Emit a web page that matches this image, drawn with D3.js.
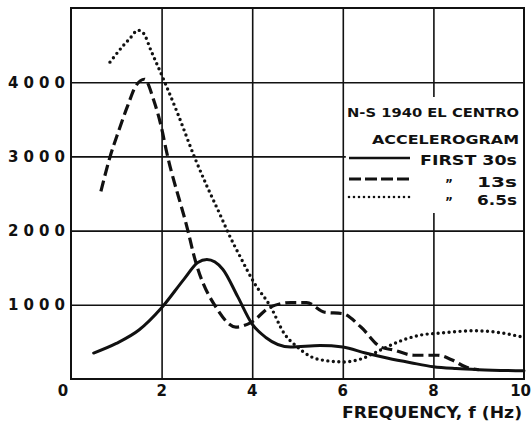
<!DOCTYPE html>
<html>
<head>
<meta charset="utf-8">
<script src="https://cdn.jsdelivr.net/npm/d3@7"></script>
<style>
  body { margin: 0; background: #fff; }
  svg { display: block; }
  .tick-label { font-family: "DejaVu Sans", sans-serif; font-weight: bold; fill: #111; }
  .legend-text { font-family: "DejaVu Sans", sans-serif; font-weight: bold; fill: #111; }
</style>
</head>
<body>
<svg id="chart"></svg>
<script>
// Frequency (Hz) / amplitude pairs
const first30s = [[0.5,350],[1.0,480],[1.5,660],[2.0,960],[2.5,1350],[2.8,1570],[3.0,1610],[3.35,1480],[3.68,1110],[4.0,740],[4.3,560],[4.85,430],[5.5,450],[6.0,430],[6.5,350],[7.0,280],[7.5,220],[8.0,165],[8.5,140],[9.0,125],[10,110]];
const first13s = [[0.66,2530],[0.86,2990],[1.05,3340],[1.25,3680],[1.43,3950],[1.62,4040],[1.83,3750],[2.0,3380],[2.1,3090],[2.58,2000],[2.72,1650],[3.24,930],[3.64,700],[3.97,760],[4.4,970],[4.86,1030],[5.2,1030],[5.6,900],[6.0,880],[6.4,700],[6.84,430],[7.13,390],[7.57,320],[8.1,320],[8.4,260],[8.72,160],[9.0,125]];
const first6p5s = [[0.86,4270],[1.15,4490],[1.3,4590],[1.48,4700],[1.6,4660],[1.77,4420],[2.07,4000],[2.36,3570],[2.72,3000],[3.0,2600],[3.31,2190],[3.47,1970],[3.75,1630],[4.04,1300],[4.41,970],[4.7,620],[5.0,430],[5.3,300],[5.6,250],[6.03,230],[6.4,270],[6.7,350],[7.0,440],[7.35,530],[7.7,590],[8.17,620],[8.9,650],[9.4,630],[9.93,570]];

const xTicks = [0, 2, 4, 6, 8, 10];
const yTicks = [1000, 2000, 3000, 4000];
const legendTitle = ['N-S 1940 EL CENTRO', 'ACCELEROGRAM'];
const legendLabels = ['FIRST 30s', '13s', '6.5s'];
const xTitle = 'FREQUENCY, f (Hz)';

const width = 532, height = 426;
const margin = {top: 8, right: 8, bottom: 47, left: 71};
const ink = '#111';

const svg = d3.select('#chart').attr('width', width).attr('height', height);

const x = d3.scaleLinear().domain([0, 10]).range([margin.left, width - margin.right]);
const y = d3.scaleLinear().domain([0, 5000]).range([height - margin.bottom, margin.top]);

// Grid lines
svg.append('g')
    .attr('transform', `translate(0,${y(0)})`)
    .call(d3.axisBottom(x).tickValues([2, 4, 6, 8]).tickSize(-(y(0) - y(5000))).tickFormat(''))
    .call(g => g.select('.domain').remove())
    .call(g => g.selectAll('line').attr('stroke', ink).attr('stroke-width', 1.6));

svg.append('g')
    .attr('transform', `translate(${x(0)},0)`)
    .call(d3.axisLeft(y).tickValues(yTicks).tickSize(-(x(10) - x(0))).tickFormat(''))
    .call(g => g.select('.domain').remove())
    .call(g => g.selectAll('line').attr('stroke', ink).attr('stroke-width', 1.6));

// Legend box hides the grid behind it
svg.append('rect')
    .attr('x', x(6) + 3).attr('y', 97)
    .attr('width', x(10) - x(6) - 4).attr('height', 116)
    .attr('fill', '#fff');

// Frame
svg.append('rect')
    .attr('x', x(0)).attr('y', y(5000))
    .attr('width', x(10) - x(0)).attr('height', y(0) - y(5000))
    .attr('fill', 'none').attr('stroke', ink).attr('stroke-width', 2);

// Tick labels
svg.append('g')
  .selectAll('text')
  .data(yTicks)
  .join('text')
    .attr('class', 'tick-label')
    .attr('x', 8).attr('y', d => y(d) + 5.5)
    .attr('font-size', 15)
    .attr('textLength', 57).attr('lengthAdjust', 'spacing')
    .text(d => d);

svg.append('g')
  .selectAll('text')
  .data(xTicks)
  .join('text')
    .attr('class', 'tick-label')
    .attr('x', d => d === 0 ? x(0) - 8 : d === 10 ? width - 1 : x(d))
    .attr('y', 396)
    .attr('text-anchor', d => d === 10 ? 'end' : 'middle')
    .attr('font-size', 15)
    .text(d => d);

svg.append('text')
    .attr('class', 'tick-label')
    .attr('x', 342).attr('y', 418)
    .attr('font-size', 15)
    .attr('textLength', 180).attr('lengthAdjust', 'spacingAndGlyphs')
    .text(xTitle);

// Curves
const line = d3.line()
    .x(d => x(d[0]))
    .y(d => y(d[1]))
    .curve(d3.curveMonotoneX);

const styles = [
  {data: first30s, dash: null, width: 3, cap: 'round'},
  {data: first13s, dash: '11 5', width: 3.2, cap: 'butt'},
  {data: first6p5s, dash: '0 5.5', width: 3.4, cap: 'round'}
];

svg.append('g')
  .selectAll('path')
  .data(styles)
  .join('path')
    .attr('d', d => line(d.data))
    .attr('fill', 'none')
    .attr('stroke', ink)
    .attr('stroke-width', d => d.width)
    .attr('stroke-linecap', d => d.cap)
    .attr('stroke-dasharray', d => d.dash);

// Legend
const legend = svg.append('g');

legend.append('text')
    .attr('class', 'legend-text')
    .attr('x', 347).attr('y', 117)
    .attr('font-size', 13)
    .attr('textLength', 172).attr('lengthAdjust', 'spacingAndGlyphs')
    .text(legendTitle[0]);

legend.append('text')
    .attr('class', 'legend-text')
    .attr('x', 372).attr('y', 144)
    .attr('font-size', 13)
    .attr('textLength', 147).attr('lengthAdjust', 'spacingAndGlyphs')
    .text(legendTitle[1]);

const rows = [
  {y: 158, dash: null, cap: 'butt', w: 2.6},
  {y: 179, dash: '12 4', cap: 'butt', w: 2.8},
  {y: 197, dash: '0 5', cap: 'round', w: 2.6}
];

legend.selectAll('.legend-sample')
  .data(rows)
  .join('line')
    .attr('class', 'legend-sample')
    .attr('x1', 349).attr('x2', 410)
    .attr('y1', d => d.y).attr('y2', d => d.y)
    .attr('stroke', ink)
    .attr('stroke-width', d => d.w)
    .attr('stroke-linecap', d => d.cap)
    .attr('stroke-dasharray', d => d.dash);

legend.append('text')
    .attr('class', 'legend-text')
    .attr('x', 420).attr('y', 165)
    .attr('font-size', 14)
    .attr('textLength', 97).attr('lengthAdjust', 'spacingAndGlyphs')
    .text(legendLabels[0]);

legend.selectAll('.ditto')
  .data(rows.slice(1))
  .join('text')
    .attr('class', 'legend-text ditto')
    .attr('x', 445).attr('y', d => d.y + 9)
    .attr('font-size', 12)
    .text('\u201D');

legend.selectAll('.sub-label')
  .data(legendLabels.slice(1))
  .join('text')
    .attr('class', 'legend-text sub-label')
    .attr('x', 477).attr('y', (d, i) => rows[i + 1].y + 8)
    .attr('font-size', 14)
    .attr('textLength', 40).attr('lengthAdjust', 'spacingAndGlyphs')
    .text(d => d);
</script>
</body>
</html>
